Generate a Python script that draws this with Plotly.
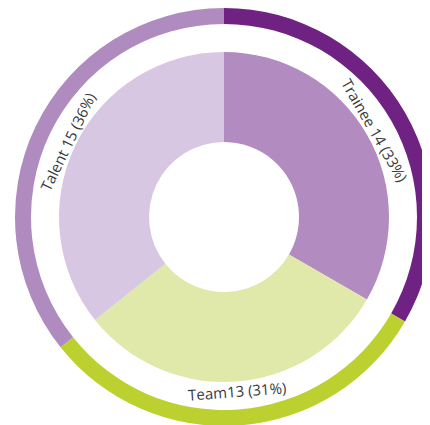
import math
import plotly.graph_objects as go

categories = ["Trainee", "Team", "Talent"]
counts = [14, 13, 15]
label_text = ["Trainee 14 (33%)", "Team13 (31%)", "Talent 15 (36%)"]

inner_colors = ["#b28cc0", "#e0e8aa", "#d8c7e2"]
outer_colors = ["#6f2282", "#bcd12f", "#b08bc0"]

W, H = 430, 425
OFF = 8  # page body margin
CX, CY = 224 - OFF, 217 - OFF  # pixel centre inside the figure
R_LABEL = 174


def dom(r):
    x0, x1 = (CX - r) / W, (CX + r) / W
    y0, y1 = (H - (CY + r)) / H, (H - (CY - r)) / H
    return dict(x=[max(0, x0), min(1, x1)], y=[max(0, y0), min(1, y1)])


common = dict(labels=categories, values=counts, sort=False,
              direction="clockwise", rotation=0, hoverinfo="label+value+percent")

fig = go.Figure()
fig.add_trace(go.Pie(**common, hole=75 / 165, domain=dom(165),
                     marker=dict(colors=inner_colors), textinfo="none"))
fig.add_trace(go.Pie(**common, hole=193 / 209, domain=dom(209),
                     marker=dict(colors=outer_colors), textinfo="none"))

# labels placed tangentially at each slice's mid angle (clockwise from 12 o'clock)
total = sum(counts)
cum = 0
annotations = []
for v, t in zip(counts, label_text):
    mid = (cum + v / 2) / total * 360
    cum += v
    th = math.radians(mid)
    px = CX + R_LABEL * math.sin(th)
    py = CY - R_LABEL * math.cos(th)
    ang = mid if mid <= 90 else (mid - 180 if mid < 270 else mid - 360)
    annotations.append(dict(x=px / W, y=(H - py) / H, xref="paper", yref="paper",
                            text=t, showarrow=False, textangle=ang,
                            xanchor="center", yanchor="middle",
                            font=dict(family="Open Sans", size=15, color="#3a3a3a")))

fig.update_layout(width=W, height=H, margin=dict(l=0, r=0, t=0, b=0),
                  showlegend=False, paper_bgcolor="white", plot_bgcolor="white",
                  annotations=annotations)
fig.write_html("out.html")
